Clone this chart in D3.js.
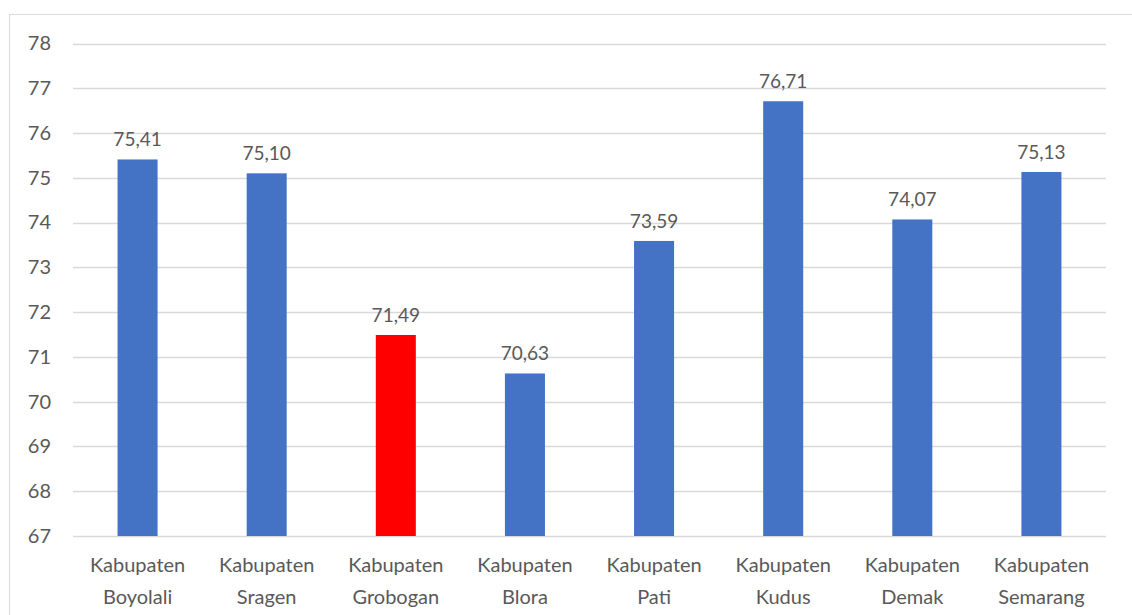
<!DOCTYPE html>
<html>
<head>
<meta charset="utf-8">
<script src="https://cdn.jsdelivr.net/npm/d3@7"></script>
<style>
  body { margin: 0; background: #fff; }
  text { font-family: Lato, "Open Sans", sans-serif; fill: #595959; }
</style>
</head>
<body>
<div id="chart"></div>
<script>
var kabupaten = ["Boyolali", "Sragen", "Grobogan", "Blora", "Pati", "Kudus", "Demak", "Semarang"];
var nilai = [75.41, 75.10, 71.49, 70.63, 73.59, 76.71, 74.07, 75.13];
var yTicks = [67, 68, 69, 70, 71, 72, 73, 74, 75, 76, 77, 78];
var sorot = "Grobogan";

var width = 1132,
    height = 615,
    margin = {left: 73, right: 26, top: 43.5, bottom: 79};

var svg = d3.select("#chart").append("svg")
    .attr("width", width)
    .attr("height", height);

// chart border
svg.append("rect")
    .attr("x", 9.5).attr("y", 14.5)
    .attr("width", width).attr("height", height)
    .attr("fill", "none")
    .attr("stroke", "#d9d9d9");

var x = d3.scaleBand()
    .domain(kabupaten)
    .range([margin.left, width - margin.right])
    .paddingInner(0.69)
    .paddingOuter(0.345);

var y = d3.scaleLinear()
    .domain([67, 78])
    .range([height - margin.bottom, margin.top]);

// gridlines
svg.append("g")
  .selectAll("line")
  .data(yTicks)
  .enter().append("line")
    .attr("x1", margin.left)
    .attr("x2", width - margin.right)
    .attr("y1", function (d) { return Math.round(y(d)) + 0.5; })
    .attr("y2", function (d) { return Math.round(y(d)) + 0.5; })
    .attr("stroke", "#d9d9d9")
    .attr("stroke-width", 1.3);

var yAxis = svg.append("g")
    .attr("transform", "translate(" + (margin.left - 22) + ",0)")
    .call(d3.axisLeft(y).tickValues(yTicks).tickSize(0).tickPadding(0));
yAxis.select(".domain").remove();
yAxis.selectAll("text").style("font-size", "20px").attr("fill", "#595959");

svg.append("g")
  .selectAll("rect")
  .data(nilai)
  .enter().append("rect")
    .attr("x", function (d, i) { return x(kabupaten[i]); })
    .attr("width", x.bandwidth())
    .attr("y", function (d) { return y(d); })
    .attr("height", function (d) { return y(67) - y(d); })
    .attr("fill", function (d, i) { return kabupaten[i] === sorot ? "#ff0000" : "#4472c4"; });

// value labels
svg.append("g")
  .selectAll("text")
  .data(nilai)
  .enter().append("text")
    .attr("x", function (d, i) { return x(kabupaten[i]) + x.bandwidth() / 2; })
    .attr("y", function (d) { return y(d) - 13; })
    .attr("text-anchor", "middle")
    .style("font-size", "19px")
    .text(function (d) { return d.toFixed(2).replace(".", ","); });

// category labels
var cat = svg.append("g")
  .selectAll("text")
  .data(kabupaten)
  .enter().append("text")
    .attr("text-anchor", "middle")
    .style("font-size", "20px")
    .attr("transform", function (d) { return "translate(" + (x(d) + x.bandwidth() / 2) + "," + (y(67) + 36) + ")"; });
cat.append("tspan").attr("x", 0).attr("dy", 0).text("Kabupaten");
cat.append("tspan").attr("x", 0).attr("dy", 32).text(function (d) { return d; });
</script>
</body>
</html>
